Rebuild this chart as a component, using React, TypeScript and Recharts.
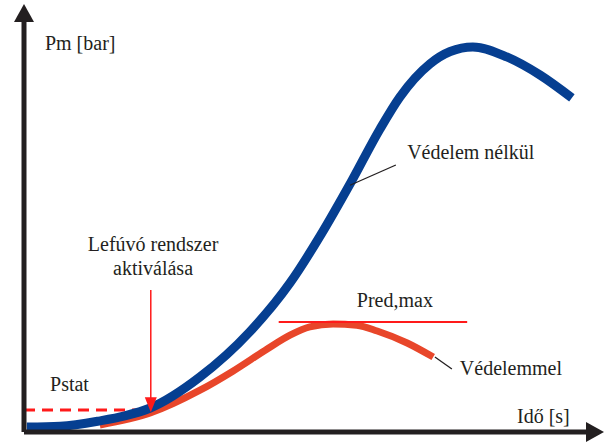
import { ComposedChart, Line, XAxis, YAxis, ReferenceLine, ReferenceDot } from 'recharts';

// Pressure without protection (time [s], Pm [bar])
const unprotected = [
  { t: 0.05, p: 0.12 },
  { t: 0.64, p: 0.14 },
  { t: 1.34, p: 0.27 },
  { t: 1.78, p: 0.39 },
  { t: 2.23, p: 0.58 },
  { t: 3.11, p: 1.33 },
  { t: 3.99, p: 2.42 },
  { t: 4.7, p: 3.6 },
  { t: 5.23, p: 4.73 },
  { t: 5.76, p: 5.99 },
  { t: 6.29, p: 7.32 },
  { t: 6.64, p: 8.09 },
  { t: 7.17, p: 8.89 },
  { t: 7.53, p: 9.19 },
  { t: 7.93, p: 9.3 },
  { t: 8.53, p: 9.06 },
  { t: 9.12, p: 8.62 },
  { t: 9.68, p: 8.07 },
];

// Pressure with venting protection
const protectedCurve = [
  { t: 1.34, p: 0.17 },
  { t: 2.23, p: 0.46 },
  { t: 3.11, p: 1.01 },
  { t: 3.69, p: 1.47 },
  { t: 4.29, p: 2.0 },
  { t: 4.7, p: 2.34 },
  { t: 5.05, p: 2.54 },
  { t: 5.46, p: 2.61 },
  { t: 5.88, p: 2.58 },
  { t: 6.24, p: 2.44 },
  { t: 6.77, p: 2.15 },
  { t: 7.23, p: 1.81 },
];

const pStat = 0.53;
const pRedMax = 2.66;
const activationTime = 2.24;

const font = '"Liberation Serif", "Times New Roman", serif';
const ink = '#231f20';

const labels = [
  { t: 0.37, p: 9.23, text: 'Pm [bar]', anchor: 'start' },
  { t: 0.46, p: 0.99, text: 'Pstat', anchor: 'start' },
  { t: 2.28, p: 4.37, text: 'Lefúvó rendszer', anchor: 'middle' },
  { t: 2.28, p: 3.79, text: 'aktiválása', anchor: 'middle' },
  { t: 6.77, p: 6.59, text: 'Védelem nélkül', anchor: 'start' },
  { t: 5.88, p: 3.02, text: 'Pred,max', anchor: 'start' },
  { t: 7.7, p: 1.38, text: 'Védelemmel', anchor: 'start' },
  { t: 8.71, p: 0.22, text: 'Idő [s]', anchor: 'start' },
];

const pointers = [
  [{ x: 5.76, y: 5.96 }, { x: 6.57, y: 6.45 }],
  [{ x: 7.26, y: 1.81 }, { x: 7.56, y: 1.52 }],
];

const ArrowShape = (props: any) => {
  const { x1, y1, x2, y2 } = props;
  return (
    <g>
      <line x1={x1} y1={y1} x2={x2} y2={y2 - 12} stroke="#ff1a1a" strokeWidth={1.5} />
      <path d={`M${x2 - 6},${y2 - 15} L${x2 + 6},${y2 - 15} L${x2},${y2} Z`} fill="#ff1a1a" />
    </g>
  );
};

export default function App() {
  return (
    <div style={{ position: 'absolute', left: 0, top: 0, width: 604, height: 444, background: '#fff' }}>
      <ComposedChart width={604} height={444} margin={{ top: 18, right: 14, left: 0, bottom: 0 }}>
        <defs>
          <marker
            id="axisArrow"
            viewBox="0 0 18 20"
            refX={4}
            refY={10}
            markerWidth={18}
            markerHeight={20}
            markerUnits="userSpaceOnUse"
            orient="auto-start-reverse"
          >
            <path d="M0,0 L18,10 L0,20 Z" fill={ink} />
          </marker>
        </defs>
        <XAxis
          type="number"
          dataKey="t"
          domain={[0, 10]}
          height={12}
          tick={false}
          tickLine={false}
          allowDataOverflow
          axisLine={{ stroke: ink, strokeWidth: 5, markerEnd: 'url(#axisArrow)' }}
        />
        <YAxis
          type="number"
          dataKey="p"
          domain={[0, 10]}
          width={24}
          tick={false}
          tickLine={false}
          allowDataOverflow
          axisLine={{ stroke: ink, strokeWidth: 5, markerStart: 'url(#axisArrow)' }}
        />

        {/* Pstat dashed level */}
        <ReferenceLine
          segment={[{ x: 0, y: pStat }, { x: 2.05, y: pStat }]}
          stroke="#ff1a1a"
          strokeWidth={3}
          strokeDasharray="11 7"
        />

        <Line
          data={protectedCurve}
          dataKey="p"
          type="monotone"
          stroke="#e8462a"
          strokeWidth={7}
          dot={false}
          activeDot={false}
          isAnimationActive={false}
        />
        <Line
          data={unprotected}
          dataKey="p"
          type="monotone"
          stroke="#063f91"
          strokeWidth={9}
          dot={false}
          activeDot={false}
          isAnimationActive={false}
        />

        {/* Pred,max level */}
        <ReferenceLine
          segment={[{ x: 4.5, y: pRedMax }, { x: 7.83, y: pRedMax }]}
          stroke="#ff1a1a"
          strokeWidth={2}
        />

        {/* activation arrow */}
        <ReferenceLine
          segment={[{ x: activationTime, y: 3.43 }, { x: activationTime, y: 0.48 }]}
          shape={ArrowShape}
        />

        {pointers.map((seg, i) => (
          <ReferenceLine key={'ptr' + i} segment={seg} stroke={ink} strokeWidth={1.3} />
        ))}

        {labels.map((l, i) => (
          <ReferenceDot
            key={'lbl' + i}
            x={l.t}
            y={l.p}
            r={0}
            shape={(props: any) => (
              <text
                x={props.cx}
                y={props.cy}
                textAnchor={l.anchor as any}
                fontFamily={font}
                fontSize={20}
                fill={ink}
              >
                {l.text}
              </text>
            )}
          />
        ))}
      </ComposedChart>
    </div>
  );
}
